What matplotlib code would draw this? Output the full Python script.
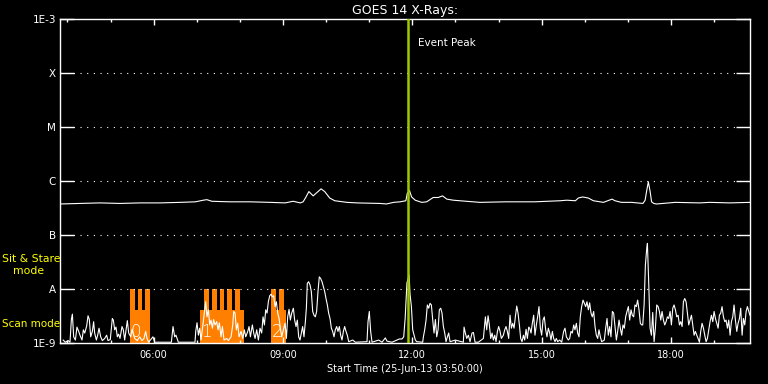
#!/usr/bin/env python3
"""
GOES 14 X-ray light curve with IRIS observing modes (IDL-style, black background)
"""

from datetime import datetime, timedelta

import numpy as np
import matplotlib
matplotlib.use('Agg')
import matplotlib.pyplot as plt
from matplotlib.ticker import FixedLocator, NullLocator


START = datetime(2013, 6, 25, 3, 50)
DURATION_MIN = 960

# GOES long channel (1-8 A): (minutes after start, log10 flux in W/m^2)
long_channel = [
    (0, -6.42), (27, -6.41), (55, -6.40), (83, -6.41), (111, -6.40), (139, -6.40),
    (167, -6.39), (188, -6.38), (199, -6.35), (204, -6.34), (211, -6.37), (236, -6.38),
    (264, -6.38), (292, -6.39), (313, -6.40), (324, -6.37), (334, -6.40), (338, -6.38),
    (342, -6.29), (346, -6.19), (352, -6.27), (357, -6.21), (363, -6.14), (368, -6.19),
    (375, -6.31), (382, -6.36), (399, -6.39), (413, -6.40), (445, -6.41), (454, -6.42),
    (464, -6.39), (473, -6.38), (481, -6.36), (483, -6.22), (486, -6.17), (489, -6.29),
    (494, -6.35), (503, -6.39), (510, -6.38), (519, -6.30), (526, -6.30), (532, -6.27),
    (538, -6.33), (547, -6.35), (556, -6.36), (584, -6.39), (620, -6.38), (660, -6.38),
    (696, -6.36), (705, -6.35), (717, -6.36), (721, -6.31), (727, -6.29), (735, -6.31),
    (742, -6.36), (756, -6.39), (768, -6.33), (772, -6.36), (781, -6.39), (795, -6.39),
    (811, -6.41), (814, -6.35), (816, -6.19), (818.5, -6.01), (821, -6.19), (823, -6.38),
    (826, -6.41), (830, -6.42), (856, -6.39), (890, -6.40), (904, -6.39), (932, -6.40),
    (960, -6.39),
]

# GOES short channel (0.5-4 A): (minutes after start, log10 flux in W/m^2)
short_channel = [
    (4, -8.94), (7, -8.98), (11, -8.95), (13.5, -8.98), (15.4, -8.56), (16.8, -8.46),
    (18.6, -8.88), (21, -8.94), (23.2, -8.70), (25.6, -8.78), (27.4, -8.85), (30.2, -8.94),
    (32.1, -8.75), (34, -8.81), (36.7, -8.68), (38.6, -8.49), (40.4, -8.56), (42.3, -8.88),
    (44.6, -8.78), (46.4, -8.60), (47.8, -8.81), (50.2, -8.94), (52, -8.85), (53.9, -8.72),
    (56.2, -8.88), (58.5, -8.95), (61.8, -8.91), (64.5, -8.85), (66.4, -8.95), (69.6, -8.93),
    (72.4, -8.54), (73.8, -8.57), (75.7, -8.75), (77.5, -8.70), (79.4, -8.88), (81.2, -8.83),
    (83.1, -8.91), (85.9, -8.69), (87.7, -8.75), (89.6, -8.94), (91.9, -8.72), (93.3, -8.58),
    (95.2, -8.81), (98, -8.88), (99.8, -8.74), (103.5, -8.91), (107.2, -8.95), (110.5, -8.88),
    (113.7, -8.95), (116.5, -8.91), (118.8, -8.78), (120.7, -8.91), (123, -8.98), (129, -8.88),
    (131.4, -8.98), (154.6, -8.98), (156.9, -8.69), (159.2, -8.88),
    (161, -8.85), (164.3, -8.98), (187.5, -8.98), (188.5, -8.78), (190.3, -8.62), (192.2, -8.85),
    (194, -8.72), (195.9, -8.94), (198.7, -8.63), (200.5, -8.44), (202.4, -8.23), (204.2, -8.51),
    (206.1, -8.38), (208, -8.66), (209.8, -8.57), (211.7, -8.72), (213.5, -8.56), (215.4, -8.66),
    (217.7, -8.60), (219.6, -8.75), (221.4, -8.62), (223.7, -8.88), (225.6, -8.69), (227.9, -8.94),
    (231.6, -8.91), (233.9, -8.95), (237.7, -8.88), (240, -8.66), (241.4, -8.41), (243.2, -8.44),
    (245.1, -8.75), (246.9, -8.63), (248.8, -8.88), (251.6, -8.78), (253.9, -8.91), (256.2, -8.75),
    (258.1, -8.88), (260.9, -8.78), (262.7, -8.69), (264.6, -8.88), (267.3, -8.66), (269.2, -8.81),
    (271.1, -8.91), (273.4, -8.75), (275.7, -8.94), (278, -8.72), (280.3, -8.81), (282.2, -8.51),
    (284.1, -8.66), (285.9, -8.38), (287.8, -8.44), (289.6, -8.23), (291.5, -8.12), (293.3, -8.09),
    (295.2, -8.14), (297, -8.12), (298.9, -8.32), (300.8, -8.23), (302.6, -8.44), (304.5, -8.54),
    (306.3, -8.72), (308.2, -8.88), (310.5, -8.75), (312.8, -8.63), (314.7, -8.91), (316.5, -8.51),
    (318.4, -8.37), (320.2, -8.57), (322.1, -8.44),
    (324.4, -8.35), (326.2, -8.57), (328.1, -8.69), (329.9, -8.57), (331.8, -8.88), (333.6, -8.94),
    (335.5, -8.81), (337.3, -8.69), (339.2, -8.88), (341.1, -8.60), (342.5, -8.35), (343.8, -7.89),
    (345.7, -7.86), (347.6, -7.92), (349.4, -8.04), (351.3, -8.41), (353.1, -8.48), (355, -8.51),
    (356.8, -8.41), (358.7, -8.04), (360.5, -7.77), (362.4, -7.80), (364.3, -7.86), (366.1, -7.95),
    (368, -8.04), (369.8, -8.17), (371.7, -8.29), (373.5, -8.44), (375.4, -8.54), (377.3, -8.72),
    (379.1, -8.78), (381, -8.88), (382.8, -8.75), (384.7, -8.69), (386.5, -8.78), (388.4, -8.69),
    (390.2, -8.85), (392.1, -8.94), (394, -8.78), (395.8, -8.69), (397.7, -8.78), (399.5, -8.85),
    (401.4, -8.97), (407, -8.94), (410.7, -8.98), (426.9, -8.97), (428.3, -8.60), (430.1, -8.41),
    (432, -8.78), (433.9, -8.98), (443.1, -8.94), (447.8, -8.98), (452.4, -8.90), (454.7, -8.96),
    (461.7, -8.98), (468.7, -8.94), (471.9, -8.92), (475.6, -8.92), (478, -8.88), (480, -8.54),
    (482.5, -7.88), (485.5, -7.74), (486.8, -8.09),
    (488.7, -8.32), (490.5, -8.75), (492.4, -8.85), (494.2, -8.94), (496.1, -8.97), (504.4, -8.98),
    (505.4, -8.88), (507.2, -8.75), (509.1, -8.57), (510.9, -8.29), (512.8, -8.35), (514.6, -8.26),
    (516.5, -8.29), (518.4, -8.57), (520.2, -8.81), (522.1, -8.56), (523.9, -8.88), (525.8, -8.75),
    (527.6, -8.38), (529.5, -8.35), (531.3, -8.44), (533.2, -8.69), (535.1, -8.81), (536.9, -8.97),
    (538.8, -8.88), (540.6, -8.81), (542.5, -8.97), (549.9, -8.94), (561, -8.98), (562, -8.70),
    (563.8, -8.81), (565.7, -8.91), (568, -8.85), (570.3, -8.97), (573.1, -8.81), (575, -8.80),
    (577.3, -8.98), (581.9, -8.98), (588.9, -8.91), (591.7, -8.51), (593.5, -8.75), (595.4, -8.49),
    (597.2, -8.66), (599.1, -8.91), (601, -8.81), (602.8, -8.94), (604.7, -8.85), (606.5, -8.97),
    (608.4, -8.78), (610.2, -8.69), (612.1, -8.78), (613.9, -8.91), (616.7, -8.85), (618.6, -8.75),
    (620.4, -8.69), (622.3, -8.78), (624.1, -8.91), (626, -8.48), (627.9, -8.72), (629.7, -8.63),
    (631.6, -8.72), (633.4, -8.51), (635.3, -8.31), (637.1, -8.44), (639, -8.66), (640.8, -8.91),
    (642.7, -8.97), (644.6, -8.85), (646.4, -8.94), (648.3, -8.74), (650.1, -8.91), (652, -8.70),
    (653.3, -8.72), (655.2, -8.81), (657, -8.63), (658.9, -8.48), (660.7, -8.85), (662.6, -8.66),
    (664.4, -8.51), (666.3, -8.32), (668.2, -8.72), (670, -8.85), (671.9, -8.57), (673.7, -8.51),
    (675.6, -8.75), (677.4, -8.88), (679.3, -8.72), (681.2, -8.81), (683, -8.94), (684.9, -8.78),
    (686.7, -8.91), (688.6, -8.97), (690.4, -8.91), (692.3, -8.97), (695.1, -8.94), (697.9, -8.98),
    (700.6, -8.78), (702.5, -8.72), (704.4, -8.88), (707.1, -8.94), (709, -8.91), (710.8, -8.78),
    (712.7, -8.81), (714.6, -8.66), (716.4, -8.75), (718.3, -8.63), (720.1, -8.81), (722, -8.88),
    (723.8, -8.51), (725.7, -8.32), (727.6, -8.20), (729.4, -8.26), (731.3, -8.32), (733.1, -8.23),
    (735, -8.38), (736.8, -8.25), (738.7, -8.44), (740.5, -8.51), (742.4, -8.41), (744.3, -8.69),
    (746.1, -8.85), (748, -8.91), (749.8, -8.75), (751.7, -8.88), (753.5, -8.97), (757.2, -8.94),
    (759.1, -8.72), (761, -8.54), (762.8, -8.85), (764.7, -8.69), (766.5, -8.88), (768.4, -8.41),
    (770.2, -8.44), (772.1, -8.69), (774, -8.94), (775.8, -8.78), (777.7, -8.57), (779.5, -8.72),
    (781.4, -8.85), (783.2, -8.66), (785.1, -8.72), (786.9, -8.51), (788.8, -8.41), (790.7, -8.32),
    (792.5, -8.57), (794.4, -8.38), (796.2, -8.48), (798.1, -8.51), (799.9, -8.29), (801.8, -8.32),
    (803.6, -8.20), (805.5, -8.38), (807.4, -8.63), (809.2, -8.66),
    (810.7, -8.66), (812.6, -8.29), (814.4, -7.55), (816.3, -7.24), (817.2, -7.15), (819.1, -7.92),
    (820.9, -8.72), (822.8, -8.85), (824.6, -8.43), (826.5, -8.97), (828.3, -8.72), (830.2, -8.29),
    (832.1, -8.32), (833.9, -8.41), (835.8, -8.57), (837.6, -8.41), (839.5, -8.57), (841.3, -8.66),
    (843.2, -8.60), (845, -8.51), (846.9, -8.54), (848.8, -8.41), (850.6, -8.66), (852.5, -8.35),
    (854.3, -8.29), (856.2, -8.38), (858, -8.51), (859.9, -8.48), (861.8, -8.66), (863.6, -8.60),
    (865.5, -8.69), (867.3, -8.23), (869.2, -8.17), (871, -8.23), (872.9, -8.44), (874.7, -8.66),
    (876.6, -8.57), (878.5, -8.48), (880.3, -8.66), (882.2, -8.85), (884, -8.78), (885.9, -8.85),
    (887.7, -8.91), (889.6, -8.98), (891.4, -8.78), (893.3, -8.63), (895.2, -8.72), (897, -8.85),
    (898.9, -8.97), (900.7, -8.91), (902.6, -8.75), (904.4, -8.60), (906.3, -8.48), (908.2, -8.60),
    (910, -8.41), (911.9, -8.54), (913.7, -8.63), (915.6, -8.72), (917.4, -8.48), (919.3, -8.44),
    (921.1, -8.32), (923, -8.51), (924.9, -8.60), (926.7, -8.57), (928.6, -8.72), (930.4, -8.57),
    (932.3, -8.85), (934.1, -8.60), (936, -8.51), (937.8, -8.29), (939.7, -8.57), (941.6, -8.78),
    (943.4, -8.63), (945.3, -8.54), (947.1, -8.35), (949, -8.85), (950.8, -8.54), (952.7, -8.66),
    (954.6, -8.41), (956.4, -8.32), (958.3, -8.41), (960, -8.48),
]

# IRIS observing modes (minutes after start)
scan_start = [97.0, 194.5, 293.0]
scan_end = [125.0, 255.7, 314.2]
scan_label = ['0', '1', '2']
sit_start = [97.0, 108.2, 117.9, 200.0, 210.7, 221.9, 232.5, 243.2, 293.0, 304.0]
sit_end = [104.0, 113.7, 124.9, 207.0, 218.1, 228.3, 239.4, 250.2, 300.3, 311.4]
scan_level = -8.38   # log10 flux reached by scan blocks
sit_level = -8.0     # log10 flux reached by sit & stare blocks

event_peak_min = 483.3

flux_ticks = [1e-9, 1e-8, 1e-7, 1e-6, 1e-5, 1e-4, 1e-3]
flux_labels = ['1E-9', 'A', 'B', 'C', 'M', 'X', '1E-3']
hour_major = [130, 310, 490, 670, 850]   # 06:00 ... 18:00
hour_minor = list(range(10, DURATION_MIN, 60))

ORANGE = '#ff8000'
EVENT_GREEN = '#a0c800'


def main():
    fig = plt.figure(figsize=(7.68, 3.84), dpi=100, facecolor='black')
    W, H = 768, 384
    ax = fig.add_axes([60.3 / W, 1 - 343.3 / H, (750 - 60.3) / W, (343.3 - 19.3) / H])
    ax.set_facecolor('black')
    ax.set_yscale('log')
    ax.set_xlim(0, DURATION_MIN)
    ax.set_ylim(1e-9, 1e-3)

    # 관측 모드 블록
    s0, s1 = np.array(scan_start), np.array(scan_end)
    ax.bar(s0, 10 ** scan_level - 1e-9, width=s1 - s0, bottom=1e-9, align='edge',
           color=ORANGE, linewidth=0, zorder=1)
    t0, t1 = np.array(sit_start), np.array(sit_end)
    ax.bar(t0, 10 ** sit_level - 1e-9, width=t1 - t0, bottom=1e-9, align='edge',
           color=ORANGE, linewidth=0, zorder=1)
    for s, lbl in zip(scan_start, scan_label):
        ax.text(s + 1, 1.08e-9, lbl, color='white', fontsize=12, ha='left',
                va='bottom', fontweight='light', zorder=2)

    # grid
    for y in flux_ticks[1:-1]:
        ax.axhline(y, color='white', linestyle=(0, (1, 5)), linewidth=0.8, zorder=2)

    lt, lv = np.array(long_channel).T
    st, sv = np.array(short_channel).T
    ax.plot(lt, 10 ** lv, color='white', linewidth=0.8, zorder=3)
    ax.plot(st, 10 ** sv, color='white', linewidth=0.8, zorder=3)

    ax.axvline(event_peak_min, color=EVENT_GREEN, linewidth=1.8, zorder=4)
    ax.text(event_peak_min + 15, 10 ** -3.44, 'Event Peak', color='white',
            fontsize=7.5, ha='left', va='center')

    # axes styling
    for sp in ax.spines.values():
        sp.set_color('white')
        sp.set_linewidth(1.0)
    ax.yaxis.set_major_locator(FixedLocator(flux_ticks))
    ax.yaxis.set_minor_locator(NullLocator())
    ax.set_yticklabels(flux_labels)
    ax.tick_params(axis='y', which='major', direction='in', length=10, width=1,
                   colors='white', right=True, labelsize=7.5, pad=3)

    ax.xaxis.set_major_locator(FixedLocator(hour_major))
    ax.xaxis.set_minor_locator(FixedLocator(hour_minor))
    ax.set_xticklabels([(START + timedelta(minutes=m)).strftime('%H:%M') for m in hour_major])
    ax.tick_params(axis='x', which='major', direction='in', length=4.5, width=1,
                   colors='white', top=True, labelsize=7, pad=5)
    ax.tick_params(axis='x', which='minor', direction='in', length=2.3, width=1,
                   colors='white', top=True)

    ax.set_title('GOES 14 X-Rays:', color='white', fontsize=9, pad=4)
    ax.set_xlabel('Start Time (%s)' % START.strftime('%d-%b-%y %H:%M:%S'),
                  color='white', fontsize=7, labelpad=3)

    # 모드 라벨 (노란색)
    fig.text(1.7 / W, 1 - 258.7 / H, 'Sit & Stare', color='yellow', fontsize=7.8,
             ha='left', va='center')
    fig.text(12.7 / W, 1 - 271 / H, 'mode', color='yellow', fontsize=7.8,
             ha='left', va='center')
    fig.text(1.7 / W, 1 - 324 / H, 'Scan mode', color='yellow', fontsize=7.5,
             ha='left', va='center')

    fig.savefig('out.png', dpi=100, facecolor='black')


if __name__ == '__main__':
    main()
